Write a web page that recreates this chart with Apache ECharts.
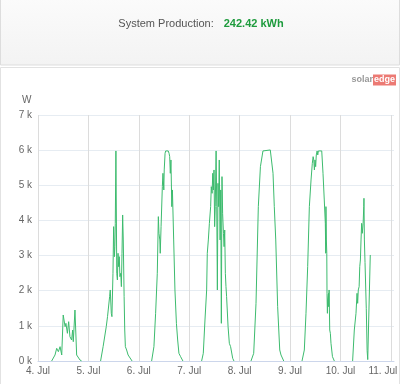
<!DOCTYPE html>
<html><head><meta charset="utf-8">
<script src="https://cdn.jsdelivr.net/npm/echarts@6/dist/echarts.min.js"></script>
<style>html,body{margin:0;padding:0;background:#fff}#c{width:400px;height:384px}</style>
</head><body><div id="c"></div><script>
// x values are hours since 4 Jul 00:00
const dayLabels = ['4. Jul','5. Jul','6. Jul','7. Jul','8. Jul','9. Jul','10. Jul','11. Jul'];
const dayStartHours = [0,24,48,72,96,120,144,168];
const yTicks = [0,1000,2000,3000,4000,5000,6000,7000];

const hours4 = [6.5,8.1,8.9,9.7,10.5,11.3,12.0,12.9,13.3,14.0,14.6,15.2,16.0,16.5,16.8,17.6,18.4,19.2,20.0,20.8];
const watts4 = [0,171,361,265,408,171,1309,977,1072,788,1119,692,598,882,550,1451,171,123,28,0];

const hours5 = [29.8,31.0,31.3,32.5,33.1,33.7,34.1,34.4,34.9,35.2,35.7,36.0,36.4,36.6,36.8,37.1,37.5,37.8,38.1,38.4,38.7,39.0,39.4,39.7,40.0,40.3,40.6,41.0,41.3,41.6,42.2,42.9,43.7,44.8];
const watts5 = [0,408,455,977,1262,1309,1831,2021,1357,1262,2496,3823,2969,3254,3918,5977,2496,2305,3065,2685,2969,2400,2496,2116,3065,4155,3444,1831,882,408,313,171,123,0];

const hours6 = [54.1,55.2,56.0,56.3,56.8,57.3,57.6,58.0,58.2,58.6,59.2,59.5,59.9,60.1,60.5,60.8,61.6,62.0,62.4,62.7,63.0,63.3,63.7,64.0,64.6,65.2,65.9,66.5,67.1,67.9,69.0];
const watts6 = [0,408,1357,1404,2496,4108,3633,3444,3065,3823,4961,5341,4867,5436,5911,5977,5977,5977,5911,5815,5341,5720,4392,4867,3444,2021,1072,598,218,123,0];

const hours7 = [77.9,78.7,79.5,80.3,80.6,81.1,81.6,82.2,82.5,82.9,83.2,83.5,83.8,84.1,84.4,84.8,85.1,85.4,85.7,86.0,86.3,86.7,87.0,87.3,87.6,87.9,88.3,88.6,88.9,89.2,89.5,89.8,90.5,91.1,91.7,92.7,93.3];
const watts7 = [0,218,1167,2021,3065,3444,3918,4392,4961,4772,5341,4867,5436,3823,4392,5977,4392,2021,5056,4392,5720,3444,4867,1072,5246,4203,3633,3254,3728,2496,2116,1831,977,503,408,76,0];

const hours8 = [101.4,102.7,103.8,104.9,105.9,107.1,107.8,110.6,111.3,111.9,112.5,113.2,114.1,115.1,115.7,117.0];
const watts8 = [0,218,1641,4392,5530,5977,6005,6005,5977,5341,4392,3444,1546,313,171,0];

const hours9 = [125.7,126.8,127.6,128.4,129.2,130.0,130.6,131.0,131.3,131.6,131.9,132.2,132.5,132.9,133.2,133.5,134.4,135.1,135.7,136.3,136.8,137.0,137.1,137.3,137.5,137.6,137.8,137.9,138.3,138.4,138.6,138.9,139.2,139.5,140.2,141.1];
const watts9 = [0,313,1357,2685,4392,5151,5625,5815,5720,5436,5720,5530,5863,5977,5863,5977,5977,5977,5341,4582,3918,3065,4392,3444,3065,1926,1357,1736,1926,1546,2021,882,787,503,123,0];

const hours10 = [149.8,150.6,151.0,151.4,151.9,152.2,152.5,152.9,153.2,153.5,153.8,154.1,154.4,154.8,155.1,155.2,155.4,155.7,156.3,156.7,157.0,158.2];
const watts10 = [0,882,930,1357,1926,1641,2021,2116,2685,2874,3444,3918,3633,3918,4392,4630,3444,2800,1500,300,40,3017];

const totalLabel = 'System Production:';
const totalValue = '242.42 kWh';

const days = [[hours4,watts4],[hours5,watts5],[hours6,watts6],[hours7,watts7],[hours8,watts8],[hours9,watts9],[hours10,watts10]];

const chart = echarts.init(document.getElementById('c'), null, {renderer:'canvas'});
const FONT = "'Liberation Sans', Arial, sans-serif";

const series = days.map((d, i) => ({
  type: 'line',
  data: d[0].map((h, k) => [h, d[1][k]]),
  showSymbol: false,
  symbol: 'none',
  lineStyle: {color: '#3dbb6e', width: 1},
  itemStyle: {color: '#3dbb6e'},
  silent: true,
  animation: false,
  z: 3
}));
series.push({
  type: 'line', data: [], silent: true, animation: false, z: 1,
  markLine: {
    silent: true, symbol: 'none', animation: false,
    label: {show: false},
    lineStyle: {color: '#dcdcdc', type: 'solid', width: 1},
    data: dayStartHours.map(h => ({xAxis: h}))
  }
});

chart.setOption({
  animation: false,
  textStyle: {fontFamily: FONT},
  graphic: [
    {type: 'rect', z: 0, shape: {x: 0.5, y: -1, width: 399, height: 66},
     style: {fill: new echarts.graphic.LinearGradient(0,0,0,1,[{offset:0,color:'#fbfbfb'},{offset:1,color:'#f3f3f3'}]), stroke: '#dddddd', lineWidth: 1}},
    {type: 'rect', z: 0, shape: {x: 0.5, y: 67.5, width: 399, height: 320},
     style: {fill: '#ffffff', stroke: '#e2e2e2', lineWidth: 1}},
    {type: 'text', z: 5, x: 201, y: 24,
     style: {text: '{a|' + totalLabel + '}   {b|' + totalValue + '}', align: 'center', verticalAlign: 'middle',
       rich: {a: {fontSize: 11, fill: '#555555', fontFamily: FONT},
              b: {fontSize: 11, fill: '#1e9b3d', fontWeight: 'bold', fontFamily: FONT}}}},
    {type: 'text', z: 5, x: 396, y: 80,
     style: {text: '{s|solar}{e|edge}', align: 'right', verticalAlign: 'middle',
       rich: {s: {fontSize: 9, fill: '#999999', fontFamily: FONT, fontWeight: 'bold'},
              e: {fontSize: 9, fill: '#ffffff', backgroundColor: '#ec7a74', padding: [1, 1], fontFamily: FONT, fontWeight: 'bold'}}}},
    {type: 'text', z: 5, x: 22, y: 100,
     style: {text: 'W', fontSize: 10, fill: '#666666', fontFamily: FONT, verticalAlign: 'middle'}}
  ],
  grid: {left: 38, right: 6, top: 115, bottom: 23, containLabel: false, outerBoundsMode: 'none'},
  xAxis: {
    type: 'value', min: 0, max: 169.5, interval: 24,
    axisLine: {show: true, lineStyle: {color: '#ccd6eb'}},
    axisTick: {show: false},
    splitLine: {show: false},
    axisLabel: {
      color: '#666666', fontSize: 10, margin: 5, showMaxLabel: false,
      formatter: v => {
        const i = dayStartHours.indexOf(v);
        if (i < 0) return '';
        return i === dayLabels.length - 1 ? '{r|' + dayLabels[i] + '}' : dayLabels[i];
      },
      rich: {r: {color: '#666666', fontSize: 10, padding: [0, 16, 0, 0]}}
    }
  },
  yAxis: {
    type: 'value', min: yTicks[0], max: yTicks[yTicks.length-1], interval: 1000,
    axisLine: {show: false}, axisTick: {show: false},
    splitLine: {lineStyle: {color: '#e6ecf2'}},
    axisLabel: {color: '#666666', fontSize: 10, margin: 6, formatter: v => (v/1000) + ' k'}
  },
  series: series
});
</script></body></html>
